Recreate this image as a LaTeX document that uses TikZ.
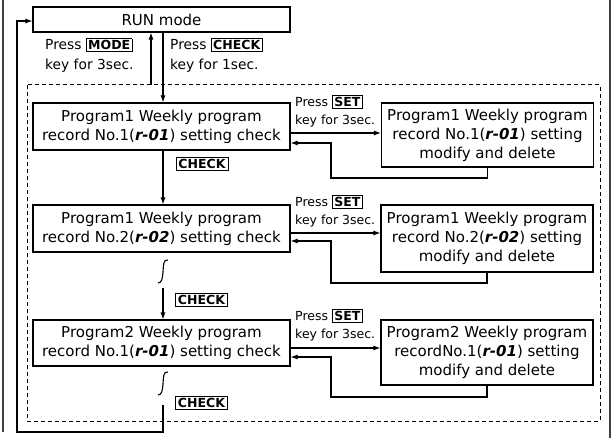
\documentclass[tikz,border=0pt]{standalone}
\usepackage{fontspec}
\setmainfont{DejaVu Sans}
\usetikzlibrary{arrows.meta,calc}
\newcommand{\kb}[1]{{\setlength\fboxsep{1.4pt}\setlength\fboxrule{0.9pt}\fbox{\fontsize{12.5}{13}\selectfont\bfseries #1}}}
\newcommand{\seg}[1]{{\bfseries\itshape #1}}
\tikzset{
  box/.style={draw,line width=1.1pt,minimum width=257pt,align=center,inner sep=0pt,font=\fontsize{15}{19}\selectfont},
  rbox/.style={draw,line width=1.1pt,minimum width=212pt,align=center,inner sep=0pt,font=\fontsize{15}{19}\selectfont},
  lbl/.style={align=left,inner sep=0pt,anchor=north west,font=\fontsize{13.8}{20}\selectfont},
  slbl/.style={align=left,inner sep=0pt,anchor=north west,font=\fontsize{12.5}{17.5}\selectfont},
  key/.style={draw,line width=0.9pt,inner xsep=2.5pt,inner ysep=1.8pt,font=\fontsize{12.5}{13}\selectfont\bfseries},
  arr/.style={line width=1.1pt,-{Latex[length=7pt,width=5pt]}},
  ln/.style={line width=1.1pt},
  dframe/.style={line width=1pt,dash pattern=on 4pt off 3pt}
}
\begin{document}
\begin{tikzpicture}[x=1pt,y=-1pt]
\useasboundingbox (0,0) rectangle (616,438);
% scan edge lines
\draw[line width=1.2pt,black!75] (3,0) -- (3,432);
\draw[line width=1.2pt,black!75] (610,0) -- (610,438);
% dashed frame
\draw[dframe] (27,85) rectangle (600,421);
% main boxes
\node[box,minimum height=25pt] (run) at (161.5,19.5) {RUN mode};
\node[box,minimum height=47pt] (b1) at (161.5,126.5) {Program1 Weekly program\\record No.1(\seg{r-01}) setting check};
\node[box,minimum height=47pt] (b2) at (161.5,228.5) {Program1 Weekly program\\record No.2(\seg{r-02}) setting check};
\node[box,minimum height=46pt] (b3) at (161.5,343) {Program2 Weekly program\\record No.1(\seg{r-01}) setting check};
\node[rbox,minimum height=64pt] (r1) at (487.5,135) {Program1 Weekly program\\record No.1(\seg{r-01}) setting\\modify and delete};
\node[rbox,minimum height=67pt] (r2) at (487,238.5) {Program1 Weekly program\\record No.2(\seg{r-02}) setting\\modify and delete};
\node[rbox,minimum height=65pt] (r3) at (487,352.5) {Program2 Weekly program\\recordNo.1(\seg{r-01}) setting\\modify and delete};
% labels
\node[lbl] (lm) at (45,38) {Press \kb{MODE}\\key for 3sec.};
\node[lbl] (lc) at (170,38) {Press \kb{CHECK}\\key for 1sec.};
\node[slbl] (s1) at (295,95) {Press \kb{SET}\\key for 3sec.};
\node[slbl] (s2) at (295,195) {Press \kb{SET}\\key for 3sec.};
\node[slbl] (s3) at (295,309) {Press \kb{SET}\\key for 3sec.};
\node[key] (c1) at (202,164) {CHECK};
\node[key] (c2) at (201.5,300) {CHECK};
\node[key] (c3) at (201.5,403) {CHECK};
% vertical flow
\coordinate (m0) at (151,85);
\draw[arr] (m0) -- (m0 |- run.south);
\draw[arr] ([xshift=1.5pt]run.south) -- ([xshift=1.5pt]b1.north);
\draw[arr] ([xshift=1.5pt]b1.south) -- ([xshift=1.5pt]b2.north);
\coordinate (q2a) at (168,260);
\coordinate (q2b) at (158,283);
\draw[ln] (q2a) .. controls (163,259) and (163.5,266) .. (163,272) .. controls (162.5,278) and (162,283) .. (q2b);
\coordinate (a2) at (163,288);
\draw[arr] (a2) -- (a2 |- b3.north);
\coordinate (q3a) at (168,372);
\coordinate (q3b) at (158,395);
\draw[ln] (q3a) .. controls (163,371) and (163.5,378) .. (163,384) .. controls (162.5,390) and (162,395) .. (q3b);
\coordinate (f0) at (163,405);
\coordinate (f1) at (163,432);
\coordinate (f2) at (17,432);
\draw[arr] (f0) -- (f1) -- (f2) |- ([yshift=-1.5pt]run.west);
% right side loops
\draw[arr] ([yshift=-6.5pt]b1.east) -- ([yshift=-6.5pt]b1.east -| r1.west);
\coordinate (k1) at (331,178);
\draw[arr] (r1.south) |- (k1) |- ([yshift=-16.5pt]b1.east);
\draw[arr] ([yshift=-4.5pt]b2.east) -- ([yshift=-4.5pt]b2.east -| r2.west);
\coordinate (k2) at (331,283);
\draw[arr] (r2.south) |- (k2) |- ([yshift=-12.5pt]b2.east);
\draw[arr] ([yshift=-5pt]b3.east) -- ([yshift=-5pt]b3.east -| r3.west);
\coordinate (k3) at (331,397);
\draw[arr] (r3.south) |- (k3) |- ([yshift=-14pt]b3.east);
\end{tikzpicture}
\end{document}
